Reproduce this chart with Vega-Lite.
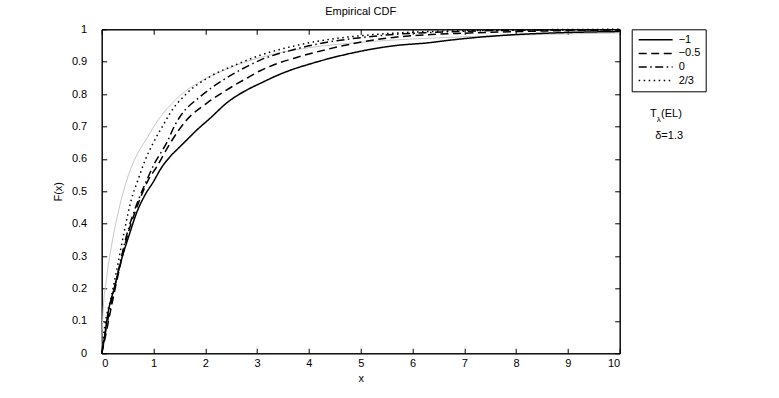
{
  "$schema": "https://vega.github.io/schema/vega-lite/v6.json",
  "width": 518,
  "height": 324,
  "autosize": "none",
  "padding": {"left": 101.7, "top": 29.3, "right": 159.3, "bottom": 44.7},
  "background": "white",
  "config": {
    "font": "Liberation Sans",
    "view": {"stroke": "black", "strokeWidth": 1},
    "axis": {"grid": false, "domainColor": "black", "tickColor": "black", "labelColor": "black", "titleColor": "black", "labelFontSize": 11, "titleFontSize": 11, "titleFontWeight": "normal", "tickSize": -5, "labelFont": "Liberation Sans", "titleFont": "Liberation Sans"},
    "title": {"fontSize": 11, "fontWeight": "normal", "font": "Liberation Sans", "color": "black"}
  },
  "title": {"text": "Empirical CDF", "offset": 6},
  "datasets": {
    "emp": [
      {"series": "−1", "x": 0, "F": 0},
      {"series": "−1", "x": 0.025, "F": 0.02},
      {"series": "−1", "x": 0.12, "F": 0.123},
      {"series": "−1", "x": 0.25, "F": 0.206},
      {"series": "−1", "x": 0.38, "F": 0.288},
      {"series": "−1", "x": 0.54, "F": 0.37},
      {"series": "−1", "x": 0.67, "F": 0.432},
      {"series": "−1", "x": 0.83, "F": 0.487},
      {"series": "−1", "x": 1.0, "F": 0.53},
      {"series": "−1", "x": 1.15, "F": 0.572},
      {"series": "−1", "x": 1.32, "F": 0.607},
      {"series": "−1", "x": 1.5, "F": 0.636},
      {"series": "−1", "x": 1.64, "F": 0.658},
      {"series": "−1", "x": 1.835, "F": 0.689},
      {"series": "−1", "x": 2.09, "F": 0.725},
      {"series": "−1", "x": 2.415, "F": 0.773},
      {"series": "−1", "x": 2.865, "F": 0.818},
      {"series": "−1", "x": 3.06, "F": 0.833},
      {"series": "−1", "x": 3.38, "F": 0.857},
      {"series": "−1", "x": 3.7, "F": 0.877},
      {"series": "−1", "x": 4.02, "F": 0.893},
      {"series": "−1", "x": 4.35, "F": 0.908},
      {"series": "−1", "x": 4.99, "F": 0.932},
      {"series": "−1", "x": 5.63, "F": 0.949},
      {"series": "−1", "x": 6.28, "F": 0.958},
      {"series": "−1", "x": 6.92, "F": 0.97},
      {"series": "−1", "x": 7.82, "F": 0.982},
      {"series": "−1", "x": 8.98, "F": 0.99},
      {"series": "−1", "x": 10, "F": 0.993},
      {"series": "−0.5", "x": 0, "F": 0},
      {"series": "−0.5", "x": 0.05, "F": 0.035},
      {"series": "−0.5", "x": 0.15, "F": 0.115},
      {"series": "−0.5", "x": 0.3, "F": 0.23},
      {"series": "−0.5", "x": 0.5, "F": 0.365},
      {"series": "−0.5", "x": 0.7, "F": 0.46},
      {"series": "−0.5", "x": 0.9, "F": 0.535},
      {"series": "−0.5", "x": 1.06, "F": 0.575},
      {"series": "−0.5", "x": 1.32, "F": 0.648},
      {"series": "−0.5", "x": 1.64, "F": 0.72},
      {"series": "−0.5", "x": 2.03, "F": 0.772},
      {"series": "−0.5", "x": 2.415, "F": 0.813},
      {"series": "−0.5", "x": 2.8, "F": 0.849},
      {"series": "−0.5", "x": 3.06, "F": 0.872},
      {"series": "−0.5", "x": 3.35, "F": 0.892},
      {"series": "−0.5", "x": 3.7, "F": 0.91},
      {"series": "−0.5", "x": 4.35, "F": 0.938},
      {"series": "−0.5", "x": 4.99, "F": 0.96},
      {"series": "−0.5", "x": 5.63, "F": 0.975},
      {"series": "−0.5", "x": 6.28, "F": 0.983},
      {"series": "−0.5", "x": 7, "F": 0.988},
      {"series": "−0.5", "x": 8, "F": 0.993},
      {"series": "−0.5", "x": 9, "F": 0.996},
      {"series": "−0.5", "x": 10, "F": 0.998},
      {"series": "0", "x": 0, "F": 0},
      {"series": "0", "x": 0.05, "F": 0.045},
      {"series": "0", "x": 0.15, "F": 0.13},
      {"series": "0", "x": 0.3, "F": 0.24},
      {"series": "0", "x": 0.5, "F": 0.375},
      {"series": "0", "x": 0.7, "F": 0.47},
      {"series": "0", "x": 0.88, "F": 0.538},
      {"series": "0", "x": 1.0, "F": 0.58},
      {"series": "0", "x": 1.256, "F": 0.65},
      {"series": "0", "x": 1.416, "F": 0.705},
      {"series": "0", "x": 1.51, "F": 0.73},
      {"series": "0", "x": 1.9, "F": 0.792},
      {"series": "0", "x": 2.35, "F": 0.844},
      {"series": "0", "x": 2.8, "F": 0.885},
      {"series": "0", "x": 3.06, "F": 0.905},
      {"series": "0", "x": 3.7, "F": 0.937},
      {"series": "0", "x": 4.35, "F": 0.96},
      {"series": "0", "x": 4.99, "F": 0.974},
      {"series": "0", "x": 5.63, "F": 0.984},
      {"series": "0", "x": 6.3, "F": 0.99},
      {"series": "0", "x": 7, "F": 0.994},
      {"series": "0", "x": 8, "F": 0.997},
      {"series": "0", "x": 10, "F": 0.999},
      {"series": "2/3", "x": 0, "F": 0},
      {"series": "2/3", "x": 0.058, "F": 0.082},
      {"series": "2/3", "x": 0.186, "F": 0.175},
      {"series": "2/3", "x": 0.315, "F": 0.278},
      {"series": "2/3", "x": 0.44, "F": 0.38},
      {"series": "2/3", "x": 0.57, "F": 0.473},
      {"series": "2/3", "x": 0.7, "F": 0.535},
      {"series": "2/3", "x": 0.85, "F": 0.6},
      {"series": "2/3", "x": 0.997, "F": 0.65},
      {"series": "2/3", "x": 1.19, "F": 0.705},
      {"series": "2/3", "x": 1.32, "F": 0.741},
      {"series": "2/3", "x": 1.64, "F": 0.802},
      {"series": "2/3", "x": 2.09, "F": 0.854},
      {"series": "2/3", "x": 2.61, "F": 0.892},
      {"series": "2/3", "x": 3.06, "F": 0.92},
      {"series": "2/3", "x": 3.7, "F": 0.948},
      {"series": "2/3", "x": 4.35, "F": 0.968},
      {"series": "2/3", "x": 4.99, "F": 0.98},
      {"series": "2/3", "x": 5.63, "F": 0.988},
      {"series": "2/3", "x": 6.5, "F": 0.994},
      {"series": "2/3", "x": 7.5, "F": 0.997},
      {"series": "2/3", "x": 10, "F": 1.0}
    ],
    "theory": [
      {"x": 0, "F": 0},
      {"x": 0.005, "F": 0.04},
      {"x": 0.025, "F": 0.123},
      {"x": 0.09, "F": 0.226},
      {"x": 0.186, "F": 0.329},
      {"x": 0.315, "F": 0.432},
      {"x": 0.475, "F": 0.53},
      {"x": 0.65, "F": 0.603},
      {"x": 0.87, "F": 0.663},
      {"x": 1.0, "F": 0.698},
      {"x": 1.19, "F": 0.741},
      {"x": 1.51, "F": 0.795},
      {"x": 1.96, "F": 0.844},
      {"x": 2.38, "F": 0.875},
      {"x": 2.61, "F": 0.89},
      {"x": 3.06, "F": 0.913},
      {"x": 4, "F": 0.943},
      {"x": 5, "F": 0.96},
      {"x": 6, "F": 0.97},
      {"x": 7, "F": 0.977},
      {"x": 8, "F": 0.982},
      {"x": 9, "F": 0.986},
      {"x": 10, "F": 0.989}
    ]
  },
  "layer": [
    {
      "data": {"name": "theory"},
      "mark": {"type": "line", "color": "#c8c8c8", "strokeWidth": 1, "interpolate": "monotone"},
      "encoding": {
        "x": {"field": "x", "type": "quantitative", "scale": {"domain": [0, 10], "nice": false}, "axis": {"orient": "top", "labels": false, "title": null, "values": [0,1,2,3,4,5,6,7,8,9,10]}},
        "y": {"field": "F", "type": "quantitative", "scale": {"domain": [0, 1], "nice": false}, "axis": {"orient": "right", "labels": false, "title": null, "values": [0,0.1,0.2,0.3,0.4,0.5,0.6,0.7,0.8,0.9,1]}}
      }
    },
    {
      "data": {"name": "emp"},
      "mark": {"type": "line", "color": "black", "strokeWidth": 1.5, "interpolate": "monotone"},
      "encoding": {
        "x": {"field": "x", "type": "quantitative", "scale": {"domain": [0, 10], "nice": false}, "axis": {"orient": "bottom", "title": "x", "format": "d", "values": [0,1,2,3,4,5,6,7,8,9,10], "labelPadding": 9, "titlePadding": 4}},
        "y": {"field": "F", "type": "quantitative", "scale": {"domain": [0, 1], "nice": false}, "axis": {"orient": "left", "title": "F(x)", "format": "~g", "values": [0,0.1,0.2,0.3,0.4,0.5,0.6,0.7,0.8,0.9,1], "labelPadding": 20, "titlePadding": 8}},
        "strokeDash": {
          "field": "series", "type": "nominal",
          "scale": {"domain": ["−1", "−0.5", "0", "2/3"], "range": [[1, 0], [8, 4.5], [8, 3.5, 1.5, 3.5], [1.5, 3.5]]},
          "legend": {"title": null, "orient": "none", "legendX": 530, "legendY": 0, "strokeColor": "black", "fillColor": "white", "padding": 5, "symbolType": "M-1,0H8.7", "symbolSize": 49, "symbolStrokeWidth": 1.5, "symbolStrokeColor": "black", "labelFontSize": 11, "labelFont": "Liberation Sans", "labelColor": "black", "rowPadding": 1.6, "labelOffset": 31}
        },
        "order": {"field": "x", "type": "quantitative"}
      }
    },
    {
      "data": {"values": [{"label": "T", "x": 10.65, "F": 0.7386}]},
      "mark": {"type": "text", "fontSize": 11, "font": "Liberation Sans", "color": "black"},
      "encoding": {"x": {"field": "x", "type": "quantitative", "axis": null, "scale": {"domain": [0, 10], "nice": false}}, "y": {"field": "F", "type": "quantitative", "axis": null, "scale": {"domain": [0, 1], "nice": false}}, "text": {"field": "label"}}
    },
    {
      "data": {"values": [{"label": "λ", "x": 10.755, "F": 0.721}]},
      "mark": {"type": "text", "fontSize": 8, "font": "Liberation Sans", "color": "black"},
      "encoding": {"x": {"field": "x", "type": "quantitative", "axis": null, "scale": {"domain": [0, 10], "nice": false}}, "y": {"field": "F", "type": "quantitative", "axis": null, "scale": {"domain": [0, 1], "nice": false}}, "text": {"field": "label"}}
    },
    {
      "data": {"values": [{"label": "(EL)", "x": 11.0, "F": 0.7386}]},
      "mark": {"type": "text", "fontSize": 11, "font": "Liberation Sans", "color": "black"},
      "encoding": {"x": {"field": "x", "type": "quantitative", "axis": null, "scale": {"domain": [0, 10], "nice": false}}, "y": {"field": "F", "type": "quantitative", "axis": null, "scale": {"domain": [0, 1], "nice": false}}, "text": {"field": "label"}}
    },
    {
      "data": {"values": [{"label": "δ=1.3", "x": 10.955, "F": 0.6707}]},
      "mark": {"type": "text", "fontSize": 11, "font": "Liberation Sans", "color": "black"},
      "encoding": {"x": {"field": "x", "type": "quantitative", "axis": null, "scale": {"domain": [0, 10], "nice": false}}, "y": {"field": "F", "type": "quantitative", "axis": null, "scale": {"domain": [0, 1], "nice": false}}, "text": {"field": "label"}}
    }
  ],
  "resolve": {"axis": {"x": "independent", "y": "independent"}}
}
